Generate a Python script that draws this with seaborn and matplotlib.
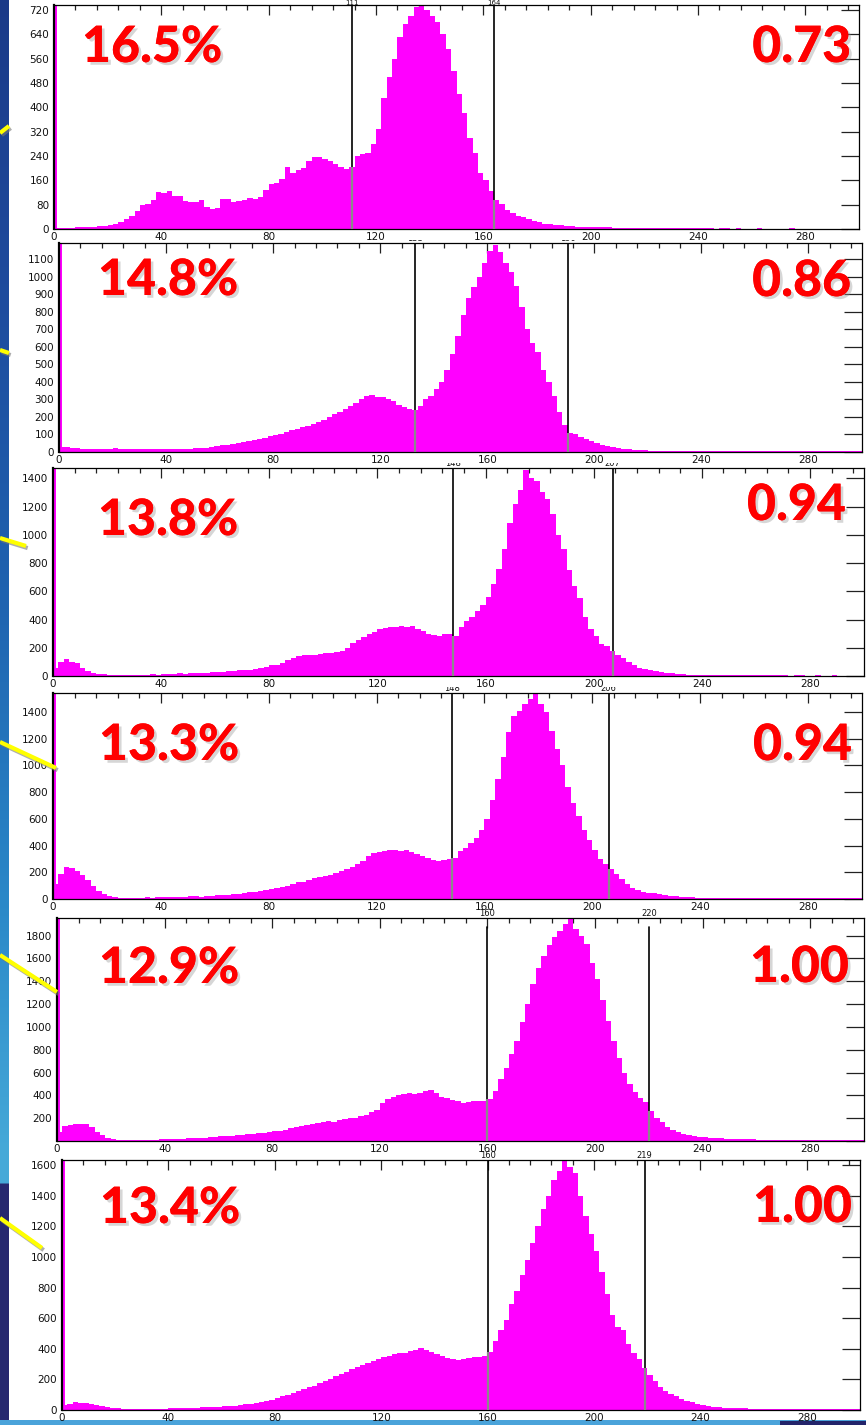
import numpy as np
import pandas as pd
import matplotlib
matplotlib.use("Agg")
import matplotlib.pyplot as plt
import matplotlib.patheffects as pe
from matplotlib.patches import Rectangle
from matplotlib.transforms import Bbox, TransformedBbox
from matplotlib.ticker import MultipleLocator
import seaborn as sns

# ---------------------------------------------------------------- data
# Counts per 2-unit bin: first bin is [1.2, 2], then [2, 4] ... [298, 300].
# The narrow bin [0, 1.2] holds the off-scale entries at zero (spike).
h1 = [2, 3, 4, 3, 5, 6, 7, 8, 9, 10, 14, 18, 24, 34, 44, 60, 80, 82, 95, 122,
      118, 124, 108, 110, 92, 90, 88, 94, 72, 66, 70, 98, 100, 88, 92,
      94, 102, 98, 106, 128, 148, 150, 165, 205, 185, 195, 200, 222, 238, 236,
      230, 225, 215, 205, 198, 205, 240, 245, 250, 280, 330, 430, 500, 560, 630,
      675, 700, 728, 735, 718, 700, 680, 640, 590, 520, 445, 380, 300, 250, 185,
      160, 125, 95, 82, 62, 52, 44, 38, 32, 26, 22, 18, 16, 14, 12,
      11, 9, 8, 7, 7, 6, 6, 5, 5, 4, 4, 4, 3, 4, 3, 3, 3, 3, 2, 3,
      2, 3, 2, 2, 2, 2, 2, 2, 1, 2, 2, 1, 2, 1, 1, 1, 2, 1, 1, 1,
      1, 1, 2, 1, 1, 1, 1, 1, 1, 0, 1, 0, 1, 0, 0]
h2 = [30, 26, 22, 20, 18, 16, 15, 16, 18, 17, 20, 18, 15, 16, 17, 15, 16, 18, 17, 16,
      16, 18, 15, 17, 18, 20, 22, 24, 28, 32, 38, 42, 45, 50, 55,
      62, 68, 75, 82, 92, 98, 105, 115, 125, 132, 142, 150, 158, 170, 185,
      200, 215, 228, 245, 262, 280, 300, 318, 325, 315, 312, 305, 290, 270, 255,
      248, 240, 265, 300, 320, 360, 400, 470, 560, 660, 780, 880, 940, 1000, 1080,
      1150, 1180, 1140, 1080, 1030, 950, 830, 700, 620, 570, 470, 400, 320, 230, 155,
      110, 100, 85, 72, 60, 50, 42, 34, 28, 22, 18, 15, 13, 11, 9, 8, 7, 7, 6, 6,
      5, 5, 5, 4, 5, 4, 5, 4, 4, 5, 4, 4, 5, 4, 4, 4, 5, 4, 4, 3,
      4, 4, 3, 4, 4, 3, 4, 4, 3, 4, 3, 4, 3, 3, 3]
h3 = [55, 100, 122, 100, 95, 60, 35, 22, 15, 12, 10, 8, 8, 6, 8, 8, 10, 10, 12, 10,
      14, 15, 14, 18, 16, 18, 20, 22, 22, 25, 28, 30, 32, 35, 40,
      42, 45, 50, 55, 62, 75, 80, 90, 110, 125, 140, 148, 150, 150, 155,
      160, 165, 172, 180, 200, 235, 255, 275, 300, 315, 330, 340, 345, 350, 355,
      345, 355, 330, 320, 300, 290, 285, 295, 300, 285, 350, 390, 420, 460, 500,
      560, 650, 760, 900, 1080, 1220, 1320, 1460, 1400, 1380, 1300, 1250, 1150, 1000, 900,
      750, 640, 550, 420, 330, 280, 230, 210, 180, 150, 130, 100, 80, 60, 50,
      45, 35, 28, 22, 18, 15, 12, 10, 9, 8, 7, 6, 6, 5, 5, 5, 5, 4, 5, 4,
      4, 5, 4, 4, 4, 4, 3, 4, 4, 3, 3, 4, 3, 3, 4, 3, 3, 3, 3, 3]
h4 = [110, 190, 240, 230, 210, 180, 140, 100, 60, 40, 22, 15, 10, 9, 8, 8, 10, 12, 10, 14,
      12, 15, 16, 14, 18, 20, 22, 18, 24, 25, 28, 30, 32, 36, 40,
      45, 50, 55, 60, 68, 72, 80, 90, 100, 115, 125, 130, 140, 155, 165,
      172, 180, 195, 210, 225, 240, 260, 285, 320, 345, 355, 360, 370, 365, 360,
      365, 350, 335, 320, 310, 295, 285, 290, 300, 310, 360, 385, 420, 460, 520,
      600, 740, 900, 1060, 1250, 1370, 1410, 1460, 1500, 1540, 1460, 1400, 1260, 1120, 1000,
      840, 720, 620, 520, 440, 370, 300, 260, 225, 190, 150, 110, 85, 65, 55,
      48, 42, 35, 30, 25, 20, 18, 15, 12, 10, 9, 8, 8, 7, 7, 6, 7, 6, 6, 5,
      6, 5, 5, 6, 5, 5, 5, 4, 5, 5, 4, 5, 5, 4, 4, 4, 4, 5, 4, 4]
h5 = [80, 130, 140, 150, 150, 150, 120, 80, 50, 30, 18, 12, 10, 9, 8, 8, 10, 10, 12, 14,
      14, 16, 18, 20, 22, 25, 28, 30, 34, 38, 40, 42, 45, 50, 55,
      58, 62, 68, 72, 78, 85, 92, 100, 110, 120, 130, 140, 148, 155, 165,
      172, 168, 180, 190, 200, 205, 215, 230, 250, 270, 330, 370, 390, 400, 410,
      420, 415, 425, 440, 450, 420, 390, 380, 360, 350, 335, 345, 350, 355, 350,
      370, 440, 540, 640, 760, 880, 1040, 1200, 1380, 1520, 1620, 1720, 1790, 1840, 1900,
      1950, 1860, 1800, 1730, 1560, 1420, 1240, 1050, 880, 730, 600, 500, 430, 380, 340,
      260, 200, 165, 125, 95, 75, 60, 50, 42, 36, 32, 28, 25, 22, 20,
      18, 16, 15, 14, 14, 13, 12, 12, 11, 12, 11, 10, 11, 10, 10,
      10, 9, 10, 9, 9, 9, 8, 9, 8, 8]
h6 = [30, 40, 50, 48, 45, 40, 35, 28, 20, 15, 10, 8, 6, 6, 5, 5, 6, 5, 8, 8,
      10, 10, 12, 12, 14, 15, 18, 18, 20, 22, 24, 26, 28, 32, 36,
      40, 44, 50, 58, 66, 80, 90, 100, 110, 125, 135, 150, 160, 175, 190,
      205, 220, 235, 250, 265, 280, 295, 310, 320, 330, 345, 355, 365, 370, 375,
      385, 395, 405, 395, 380, 365, 350, 340, 330, 325, 330, 340, 345, 345, 350,
      380, 450, 520, 590, 690, 780, 880, 980, 1090, 1200, 1310, 1400, 1500, 1560, 1640,
      1590, 1545, 1400, 1270, 1150, 1040, 900, 760, 620, 540, 520, 430, 375, 330, 275,
      230, 190, 150, 125, 105, 90, 75, 62, 52, 42, 35, 28, 22, 18, 15,
      12, 11, 10, 10, 9, 9, 8, 9, 8, 8, 8, 7, 8, 7, 7, 7, 7, 6, 7, 6,
      6, 6, 6, 5, 6]
hists = [h1, h2, h3, h4, h5, h6]
spike_counts = [5000, 5000, 5000, 5000, 5000, 5000]

pct_labels = ["16.5%", "14.8%", "13.8%", "13.3%", "12.9%", "13.4%"]
ratio_labels = ["0.73", "0.86", "0.94", "0.94", "1.00", "1.00"]
cut_low = [111, 133, 148, 148, 160, 160]
cut_high = [164, 190, 207, 206, 220, 219]
y_max = [736, 1193, 1473, 1542, 1955, 1633]
y_step = [80, 100, 200, 200, 200, 200]
x_ticks = [0, 40, 80, 120, 160, 200, 240, 280]

# ---------------------------------------------------------------- layout
W, H = 866, 1425
# panel frames in pixels: left, top, right, bottom
frames = [(54, 5, 859, 229), (59, 243, 862, 452), (53, 468, 864, 676),
          (53, 693, 862, 899), (57, 918, 864, 1141), (62, 1160, 860, 1410)]
# how much of the cut-value labels peeks out above each frame (px)
label_room = [None, 3, 5, 6, None, None]
cut_line_top = [1.0, 1.0, 1.0, 1.0, 0.96, 1.0]
# big annotations: (left x, baseline) and (right x, baseline)
pct_pos = [(82, 62), (98, 295), (98, 535), (99, 760), (99, 983), (100, 1223)]
ratio_pos = [(851, 62), (851, 296), (846, 520), (852, 760), (849, 982), (852, 1222)]
# pointer lines on the left edge
pointers = [((0, 133), (9, 126)), ((0, 350), (9, 353)), ((0, 538), (26, 546)),
            ((0, 742), (56, 768)), ((0, 955), (57, 992)), ((0, 1218), (42, 1248))]

sns.set_style("white")
plt.rcParams["font.family"] = ["DejaVu Sans"]

fig = plt.figure(figsize=(W / 100, H / 100), dpi=100)
fig.patch.set_facecolor("white")

# blue slide edge on the left
bg = fig.add_axes([0, 0, 1, 1], zorder=-5)
bg.set_xlim(0, W)
bg.set_ylim(H, 0)
bg.axis("off")
stop_y = [0, 300, 600, 900, 1150, 1182, 1184, 1425]
stop_c = ["#1b3a88", "#1e4c9e", "#1f63b0", "#2a88c8", "#46a9d8", "#46a9d8", "#27286f", "#27286f"]
rgb = np.array([matplotlib.colors.to_rgb(c) for c in stop_c])
yy = np.arange(H)
grad = np.stack([np.interp(yy, stop_y, rgb[:, k]) for k in range(3)], axis=1)[:, None, :]
bg.imshow(grad, extent=[0, 9, H, 0], aspect="auto", interpolation="bilinear")
bg.add_patch(Rectangle((0, 1420), W, 5, color="#4aa3da", lw=0))
bg.add_patch(Rectangle((780, 1421), W - 780, 4, color="#23246a", lw=0))

edges = [0.0, 1.2] + list(range(2, 301, 2))
centers = [0.5 * (a + b) for a, b in zip(edges[:-1], edges[1:])]

for i, (l, t, r, b) in enumerate(frames):
    ax = fig.add_axes([l / W, 1 - b / H, (r - l) / W, (b - t) / H])
    ax.set_facecolor("white")
    counts = [spike_counts[i]] + hists[i]
    df = pd.DataFrame({"value": centers, "count": counts})
    sns.histplot(data=df, x="value", weights="count", bins=edges, element="step",
                 fill=True, color="#ff00ff", alpha=1, linewidth=0, ax=ax)
    ax.set_xlim(0, 300)
    ax.set_ylim(0, y_max[i])
    ax.set_xlabel("")
    ax.set_ylabel("")

    yt = np.arange(0, y_max[i], y_step[i])
    ylab = [str(int(v)) for v in yt]
    if i == 4:
        ylab[0] = ""
    ax.set_yticks(yt, ylab)
    ax.set_xticks(x_ticks, [str(v) for v in x_ticks])
    ax.xaxis.set_minor_locator(MultipleLocator(8))
    ax.tick_params(axis="both", which="both", direction="in", top=True, right=True,
                   colors="#222222", labelcolor="#111111")
    ax.tick_params(axis="y", which="major", length=13, width=0.9, pad=3.5, labelsize=7.5)
    ax.tick_params(axis="x", which="major", length=7, width=0.9, pad=2.0, labelsize=7.5)
    ax.tick_params(axis="x", which="minor", length=3.5, width=0.9)
    for side, sp in ax.spines.items():
        sp.set_visible(True)
        sp.set_color("black")
        sp.set_linewidth(1.6 if side == "left" else 0.9)

    # cut lines; the stretch inside the filled area is drawn grey
    for c in (cut_low[i], cut_high[i]):
        ax.axvline(c, ymin=0, ymax=cut_line_top[i], color="black", lw=1.2, zorder=5)
        k = int(np.searchsorted(edges, c, side="right")) - 1
        ax.vlines(c, 0, min(counts[k], y_max[i]), color="#8a8a8a", lw=1.6, zorder=6)
        if i == 0:
            # no room above the first frame: hang the label from the top edge
            fig.text((l + (r - l) * c / 300) / W, 1.0, str(c), ha="center", va="top",
                     fontsize=5, color="#111111")
            continue
        txt = ax.text(c, 1.0, str(c), transform=ax.get_xaxis_transform(),
                      ha="center", va="bottom", fontsize=6, color="#111111")
        if label_room[i] is not None:
            room = label_room[i] / (b - t)
            txt.set_clip_box(TransformedBbox(Bbox([[0, 1.0], [1, 1.0 + room]]), ax.transAxes))
            txt.set_clip_on(True)
        else:
            txt.set_clip_on(False)

# overlay in pixel coordinates for annotations and pointers
ov = fig.add_axes([0, 0, 1, 1], zorder=10)
ov.set_xlim(0, W)
ov.set_ylim(H, 0)
ov.axis("off")
ov.patch.set_alpha(0)

shadow = [pe.withSimplePatchShadow(offset=(2, -2), shadow_rgbFace="#9a9a9a", alpha=0.4),
          pe.Normal()]
for i in range(6):
    ov.text(*pct_pos[i], pct_labels[i], ha="left", va="baseline", fontsize=36,
            family=["Lato", "DejaVu Sans"], fontweight="black", color="#ff0000",
            path_effects=shadow)
    ov.text(*ratio_pos[i], ratio_labels[i], ha="right", va="baseline", fontsize=36,
            family=["Lato", "DejaVu Sans"], fontweight="black", color="#ff0000",
            path_effects=shadow)

for (x0, y0), (x1, y1) in pointers:
    ov.plot([x0, x1], [y0, y1], color="#ffff00", lw=3, solid_capstyle="butt",
            path_effects=[pe.SimpleLineShadow(offset=(1.2, -1.5), shadow_color="#777777", alpha=0.6),
                          pe.Normal()])

fig.savefig("out.png", dpi=100, facecolor="white")
